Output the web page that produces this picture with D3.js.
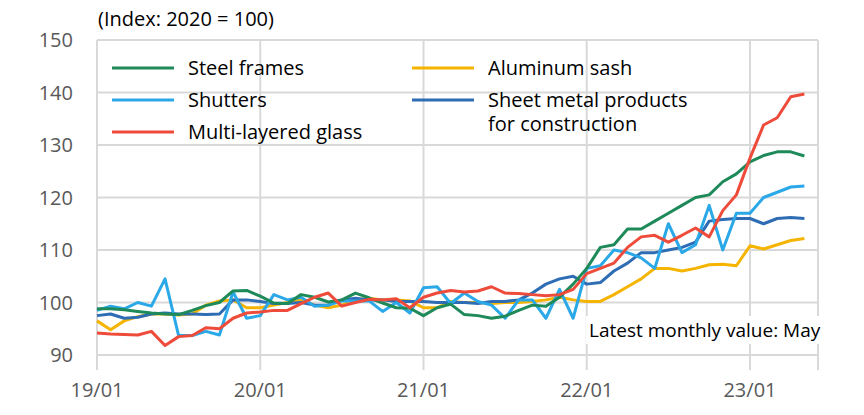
<!DOCTYPE html><html><head><meta charset="utf-8"><script src="https://cdn.jsdelivr.net/npm/d3@7"></script>
<style>body{margin:0;background:#fff}text{font-family:"Open Sans",Calibri,sans-serif}</style></head><body><svg id="c" width="864" height="415"></svg>
<script>
const xTicks=["19/01","20/01","21/01","22/01","23/01"];
const yTicks=[90,100,110,120,130,140,150];
const steel=[98.8,98.8,98.6,98.3,98.0,97.8,97.7,98.5,99.4,100.0,102.2,102.3,101.2,99.9,99.8,101.5,101.0,100.1,100.5,101.8,100.9,99.9,99.0,98.9,97.5,99.0,99.7,97.7,97.5,97.0,97.4,98.5,99.5,99.3,101.0,103.5,106.5,110.5,111,114,114,115.5,117,118.5,120,120.5,123,124.5,126.8,128,128.7,128.7,127.9];
const glass=[94.2,94.0,93.9,93.8,94.5,91.8,93.5,93.7,95.2,95.0,97.0,98.0,98.2,98.5,98.5,99.8,101.0,101.8,99.3,100.0,100.6,100.5,100.7,99.0,101.0,101.8,102.3,102.0,102.2,103.0,101.8,101.7,101.5,101.3,101.5,102.5,105.5,106.5,107.5,110.5,112.5,112.8,111.5,112.8,114.2,112.5,117.5,120.5,127.5,133.8,135.2,139.2,139.7];
const shutters=[98.5,99.3,98.8,100.0,99.3,104.5,93.7,93.7,94.5,93.8,102.0,97.0,97.5,101.5,100.5,101.0,99.3,99.5,100.3,100.3,100.3,98.3,100.0,98.0,102.8,103,99.8,101.8,100.2,99.5,97,100.5,100.5,97,102.5,97,106.5,107,110,109.5,108.5,106.5,115,109.5,111,118.5,110,117,117,120,121,122,122.2];
const sash=[96.5,94.8,96.5,97.3,97.8,97.8,97.6,97.8,99.5,100.3,100.5,99.0,99.0,99.5,100.0,100.5,99.5,99.0,99.5,100.5,100.8,100.5,100.5,100.3,99.0,99.0,100.2,100.0,100.0,99.8,100.0,100.0,100.2,100.5,101.0,100.5,100.2,100.2,101.5,103.0,104.5,106.5,106.5,106.0,106.5,107.2,107.3,107.0,110.8,110.2,111.0,111.8,112.2];
const sheet=[97.5,97.8,97.0,97.2,97.8,98.0,97.8,97.8,97.7,97.8,100.5,100.5,100.2,99.8,99.8,100.0,99.5,99.5,100.5,100.8,100.5,100.5,100.2,100.2,100.2,100.0,100.0,100.0,99.8,100.2,100.2,100.5,101.8,103.5,104.5,105.0,103.5,103.8,106.0,107.5,109.5,109.5,110.0,110.5,111.5,115.5,115.8,116.0,116.0,115.0,116.0,116.2,116.0];
const seriesNames=["Steel frames","Shutters","Multi-layered glass","Aluminum sash","Sheet metal products"];
const colors=["#1e8a5a","#2aa8e8","#ee4b3a","#f5b400","#2e6db4"];
const all=[steel,shutters,glass,sash,sheet];
const svg=d3.select("#c");
const x=d3.scaleLinear().domain([0,53]).range([97,818]);
const y=d3.scaleLinear().domain([90,150]).range([355,40]);
const g=svg.append("g");
g.selectAll(".h").data(yTicks).join("line").attr("x1",97).attr("x2",818).attr("y1",d=>y(d)).attr("y2",d=>y(d)).attr("stroke","#d9d9d9").attr("stroke-width",2);
g.selectAll(".v").data(xTicks).join("line").attr("x1",(d,i)=>x(i*12)).attr("x2",(d,i)=>x(i*12)).attr("y1",40).attr("y2",370).attr("stroke","#d9d9d9").attr("stroke-width",2);
g.append("line").attr("x1",818).attr("x2",818).attr("y1",40).attr("y2",370).attr("stroke","#d9d9d9").attr("stroke-width",2);
g.selectAll(".yl").data(yTicks).join("text").attr("x",73).attr("y",d=>y(d)+7).attr("text-anchor","end").attr("font-size",20).attr("fill","#595959").text(d=>d);
g.selectAll(".xl").data(xTicks).join("text").attr("x",(d,i)=>x(i*12)).attr("y",397).attr("text-anchor","middle").attr("font-size",20).attr("fill","#595959").text(d=>d);
const line=d3.line().x((d,i)=>x(i)).y(d=>y(d));
const order=[3,4,1,0,2];
order.forEach(k=>svg.append("path").datum(all[k]).attr("d",line).attr("fill","none").attr("stroke",colors[k]).attr("stroke-width",3).attr("stroke-linejoin","round"));
svg.append("text").attr("x",98).attr("y",26).attr("font-size",20).attr("fill","#000").text("(Index: 2020 = 100)");
const leg=[[0,112,68],[1,112,100],[2,112,132],[3,412,68],[4,412,100]];
leg.forEach(([k,lx,ly])=>{svg.append("line").attr("x1",lx).attr("x2",lx+62).attr("y1",ly).attr("y2",ly).attr("stroke",colors[k]).attr("stroke-width",3);
 svg.append("text").attr("x",lx+76).attr("y",ly+7).attr("font-size",20).text(seriesNames[k]);});
svg.append("text").attr("x",488).attr("y",131).attr("font-size",20).text("for construction");
svg.append("rect").attr("x",586).attr("y",316).attr("width",262).attr("height",28).attr("fill","#fff");
svg.append("text").attr("x",589).attr("y",337).attr("font-size",19).text("Latest monthly value: May");
</script></body></html>
